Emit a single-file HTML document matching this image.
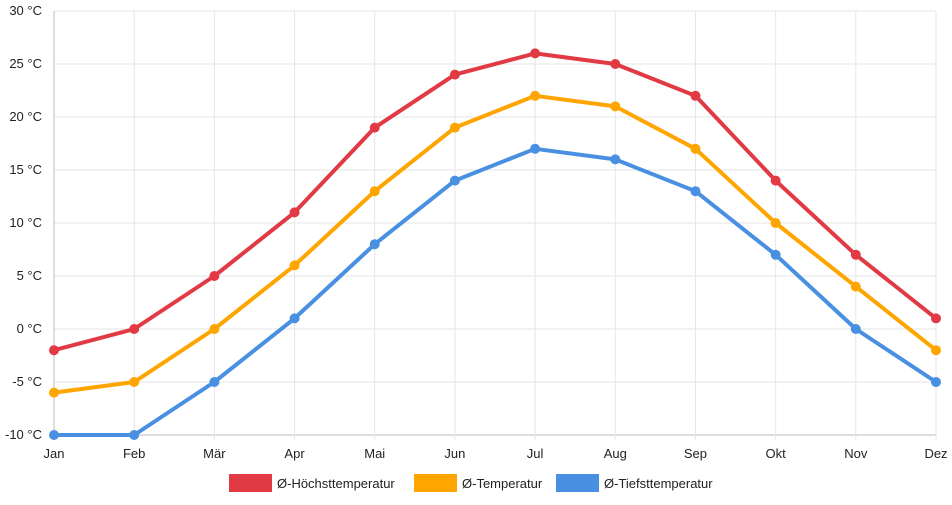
<!DOCTYPE html>
<html><head><meta charset="utf-8"><style>
body{margin:0;background:#fff;font-family:"Liberation Sans",sans-serif}
svg text{font-family:"Liberation Sans",sans-serif;font-size:13px;fill:#222}
</style></head><body>
<svg id="c" width="952" height="500"></svg>
<script>
const months=["Jan","Feb","Mär","Apr","Mai","Jun","Jul","Aug","Sep","Okt","Nov","Dez"];
const high=[-2,0,5,11,19,24,26,25,22,14,7,1];
const avg=[-6,-5,0,6,13,19,22,21,17,10,4,-2];
const low=[-10,-10,-5,1,8,14,17,16,13,7,0,-5];
const yTicks=[-10,-5,0,5,10,15,20,25,30];
const seriesNames=["Ø-Höchsttemperatur","Ø-Temperatur","Ø-Tiefsttemperatur"];
const colors=["#e23a44","#ffa500","#4a90e2"];
const svg=document.getElementById('c'),NS="http://www.w3.org/2000/svg";
const X0=54,X1=936,Y0=435,Y1=11,vmin=-10,vmax=30;
const x=i=>X0+i*(X1-X0)/(months.length-1);
const y=v=>Y0-(v-vmin)*(Y0-Y1)/(vmax-vmin);
function el(t,a,p){const e=document.createElementNS(NS,t);for(const k in a)e.setAttribute(k,a[k]);(p||svg).appendChild(e);return e;}
const grid=el('g',{});


yTicks.forEach(v=>{
 el('line',{x1:X0,x2:X1,y1:y(v),y2:y(v),stroke:v===vmin?'#bbb':'#e6e6e6','stroke-width':1},grid);
 const t=el('text',{x:42,y:y(v)+4,'text-anchor':'end'});t.textContent=v+' °C';
 
 
});
months.forEach((m,i)=>{
 el('line',{x1:x(i),x2:x(i),y1:Y1,y2:Y0+5,stroke:i===0?'#bbb':'#e6e6e6','stroke-width':1},grid);
 const t=el('text',{x:x(i),y:458,'text-anchor':'middle'});t.textContent=m;
 
 
});
[high,avg,low].forEach((d,s)=>{
 const g=el('g',{});
 
 
 el('polyline',{points:d.map((v,i)=>x(i)+','+y(v)).join(' '),fill:'none',stroke:colors[s],'stroke-width':4,'stroke-linejoin':'round'},g);
 d.forEach((v,i)=>{const c=el('circle',{cx:x(i),cy:y(v),r:5,fill:colors[s]},g);
  
  });
});
const lx=[229,414,556];
seriesNames.forEach((n,s)=>{
 const g=el('g',{});
 
 
 el('rect',{x:lx[s],y:474,width:43,height:18,fill:colors[s]},g);
 const t=el('text',{x:lx[s]+48,y:488},g);t.textContent=n;
});
</script>
</body></html>
